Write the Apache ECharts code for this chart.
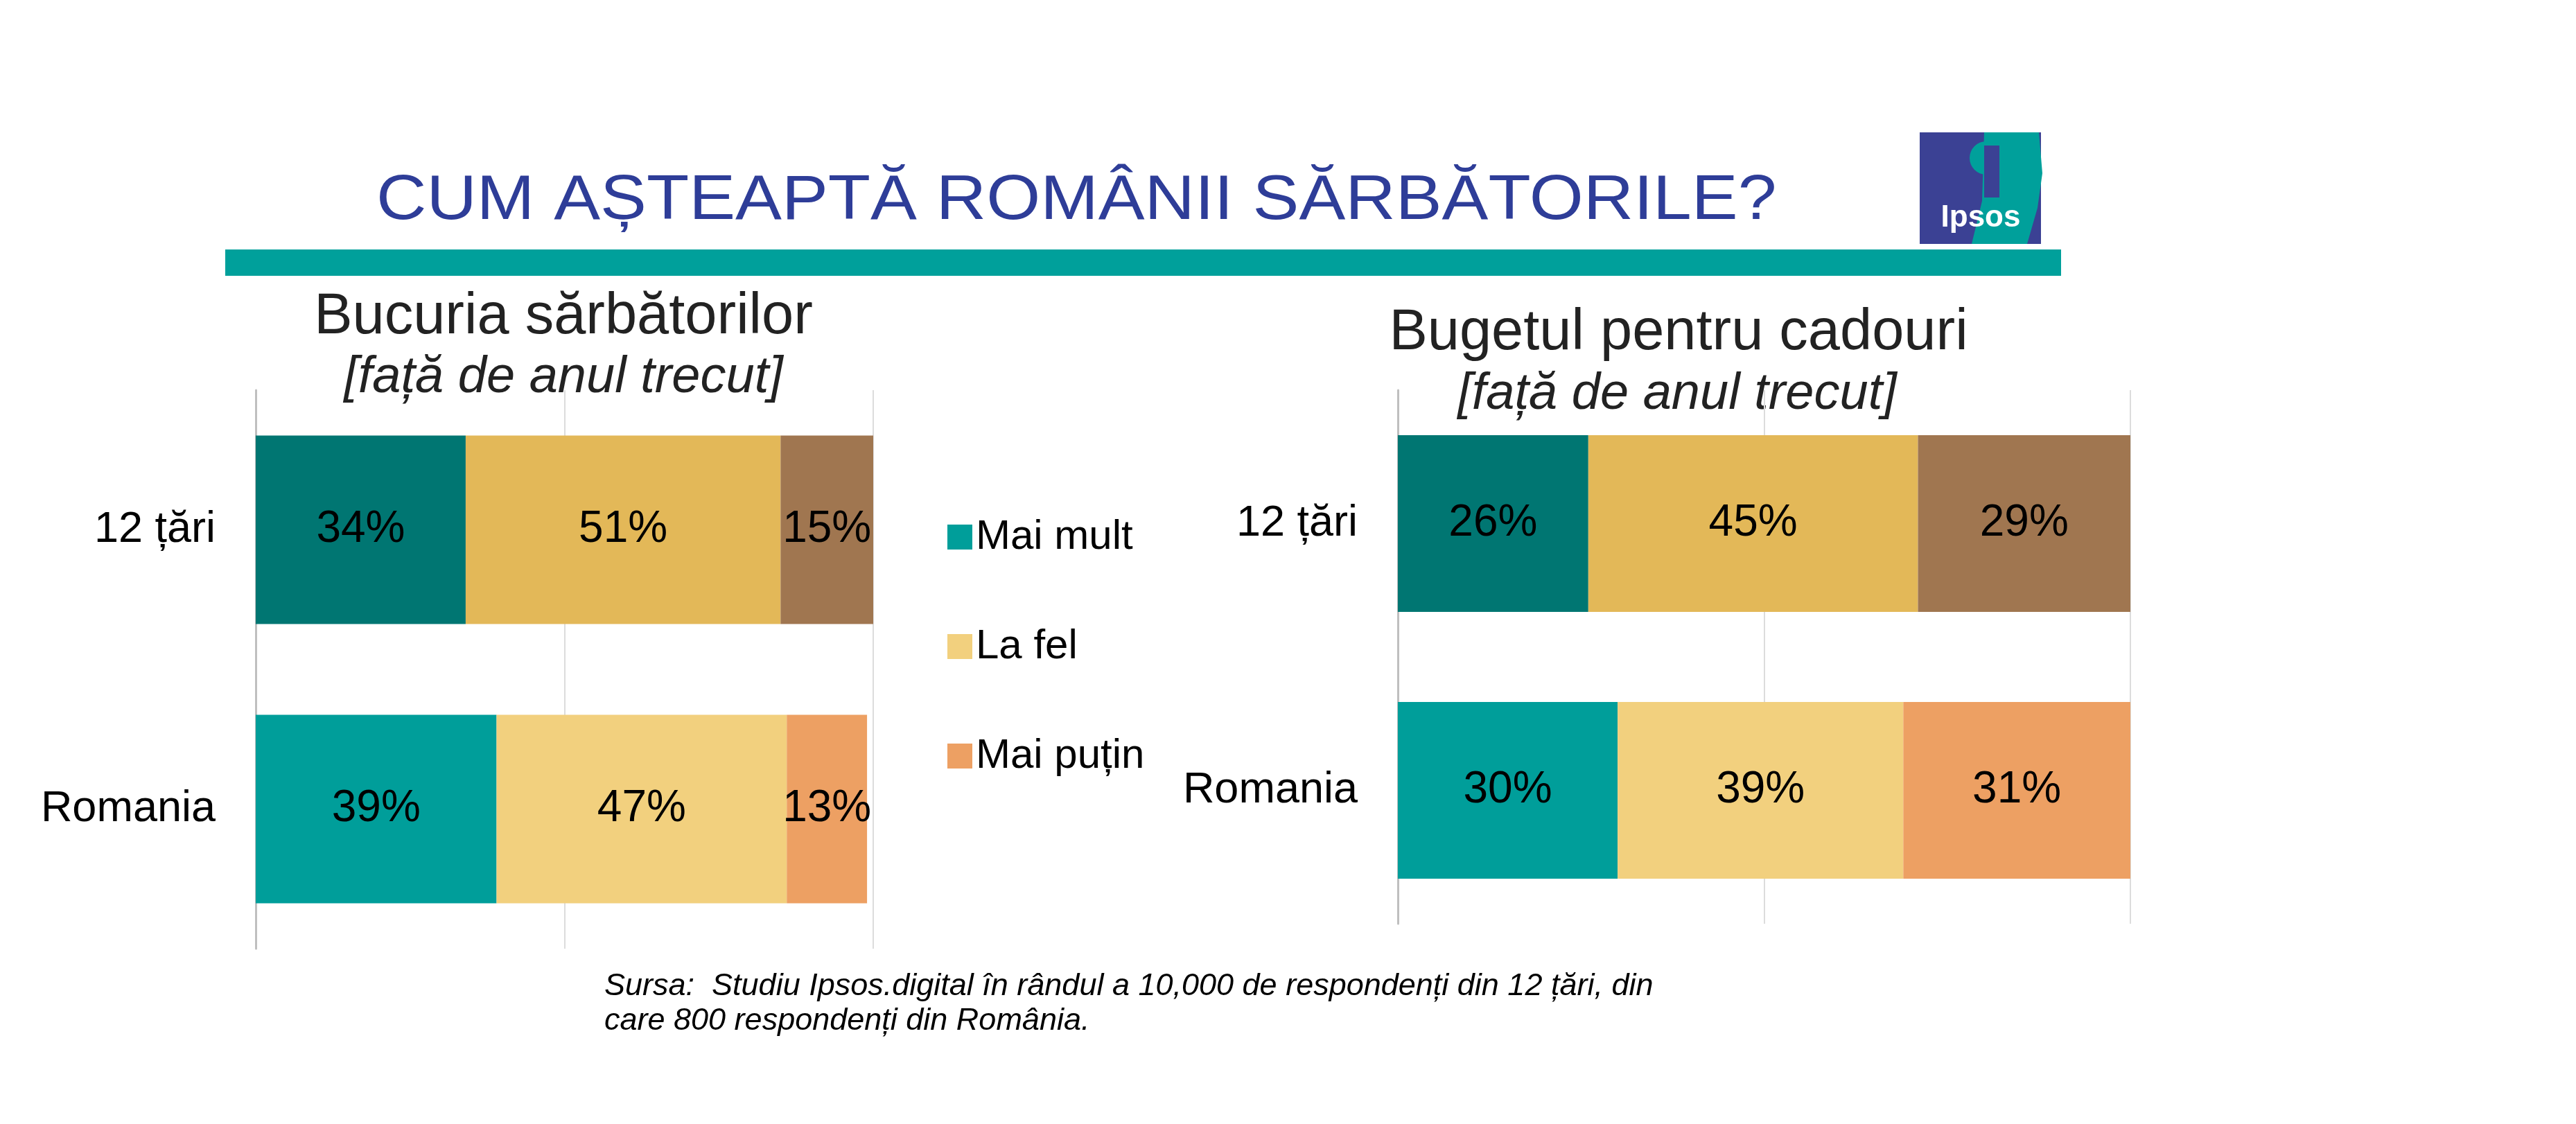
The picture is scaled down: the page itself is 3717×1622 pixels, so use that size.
<!DOCTYPE html>
<html><head><meta charset="utf-8">
<script src="https://cdn.jsdelivr.net/npm/echarts@6/dist/echarts.min.js"></script>
<style>html,body{margin:0;padding:0;background:#fff}#c{width:3717px;height:1622px}</style>
</head><body><div id="c"></div>
<script>
const categories = ['12 țări', 'Romania'];
const seriesNames = ['Mai mult', 'La fel', 'Mai puțin'];
const joy = { 'Mai mult': [34, 39], 'La fel': [51, 47], 'Mai puțin': [15, 13] };
const budget = { 'Mai mult': [26, 30], 'La fel': [45, 39], 'Mai puțin': [29, 31] };
const colors12 = ['#007672', '#e3b858', '#a07650'];
const colorsRo = ['#009e9a', '#f2d07e', '#eda063'];

const chart = echarts.init(document.getElementById('c'));
const font = 'Liberation Sans, Arial, sans-serif';
function mkSeries(data, gi, bw) {
  return seriesNames.map((n, i) => ({
    name: n, type: 'bar', stack: 's' + gi, xAxisIndex: gi, yAxisIndex: gi, barWidth: bw,
    data: data[n].map((v, j) => ({ value: v, itemStyle: { color: j === 0 ? colors12[i] : colorsRo[i] } })),
    label: { show: true, position: 'inside', formatter: '{c}%', color: '#000', fontSize: 64, fontFamily: font },
    itemStyle: { color: colorsRo[i] }
  }));
}
const xa = { type: 'value', min: 0, max: 100, interval: 50, axisLabel: { show: false }, axisLine: { show: false }, axisTick: { show: false }, splitLine: { lineStyle: { color: '#dcdcdc', width: 2 } } };
const ya = { type: 'category', data: categories, inverse: true, axisTick: { show: false }, axisLine: { lineStyle: { color: '#bfbfbf', width: 3 } }, axisLabel: { color: '#000', fontSize: 63, fontFamily: font, margin: 58 } };
chart.setOption({
  animation: false,
  grid: [
    { left: 369, width: 891, top: 563, height: 806 },
    { left: 2017, width: 1057, top: 563, height: 770 }
  ],
  xAxis: [Object.assign({ gridIndex: 0 }, xa), Object.assign({ gridIndex: 1 }, xa)],
  yAxis: [Object.assign({ gridIndex: 0 }, ya), Object.assign({ gridIndex: 1 }, ya)],
  legend: {
    orient: 'vertical', left: 1362, top: 740, itemWidth: 36, itemHeight: 36, itemGap: 98,
    icon: 'rect', data: seriesNames.map((n, i) => ({ name: n, itemStyle: { color: colorsRo[i] } })),
    textStyle: { fontSize: 60, fontFamily: font, color: '#000', padding: [0, 0, 0, 0] }
  },
  series: mkSeries(joy, 0, 272).concat(mkSeries(budget, 1, 255)),
  graphic: [
    { type: 'rect', shape: { x: 325, y: 360, width: 2649, height: 38 }, style: { fill: '#00a09b' } },
    { type: 'text', x: 543, y: 246, scaleX: 1.114, style: { text: 'CUM AȘTEAPTĂ ROMÂNII SĂRBĂTORILE?', fill: '#2e3d98', font: '90px ' + font } },
    { type: 'text', x: 813, y: 458, style: { text: 'Bucuria sărbătorilor', fill: '#222', font: '83px ' + font, align: 'center', verticalAlign: 'middle' } },
    { type: 'text', x: 813, y: 545, style: { text: '[față de anul trecut]', fill: '#222', font: 'italic 74px ' + font, align: 'center', verticalAlign: 'middle' } },
    { type: 'text', x: 2422, y: 481, style: { text: 'Bugetul pentru cadouri', fill: '#222', font: '83px ' + font, align: 'center', verticalAlign: 'middle' } },
    { type: 'text', x: 2420, y: 569, style: { text: '[față de anul trecut]', fill: '#222', font: 'italic 74px ' + font, align: 'center', verticalAlign: 'middle' } },
    { type: 'text', x: 872, y: 1398, style: { text: 'Sursa:  Studiu Ipsos.digital în rândul a 10,000 de respondenți din 12 țări, din\ncare 800 respondenți din România.', fill: '#000', font: 'italic 45px ' + font, lineHeight: 50 } },
    { type: 'rect', shape: { x: 2770, y: 191, width: 175, height: 161 }, style: { fill: '#3b4194' } },
    { type: 'polygon', shape: { points: [[2863, 191], [2942, 191], [2947, 250], [2940, 300], [2925, 352], [2845, 352], [2860, 290]] }, style: { fill: '#00a09b' } },
    { type: 'circle', shape: { cx: 2866, cy: 228, r: 24 }, style: { fill: '#00a09b' } },
    { type: 'rect', shape: { x: 2863, y: 210, width: 22, height: 75 }, style: { fill: '#3b4194' } },
    { type: 'text', x: 2858, y: 315, style: { text: 'Ipsos', fill: '#fff', font: 'bold 44px ' + font, align: 'center', verticalAlign: 'middle' } }
  ]
});
</script></body></html>
